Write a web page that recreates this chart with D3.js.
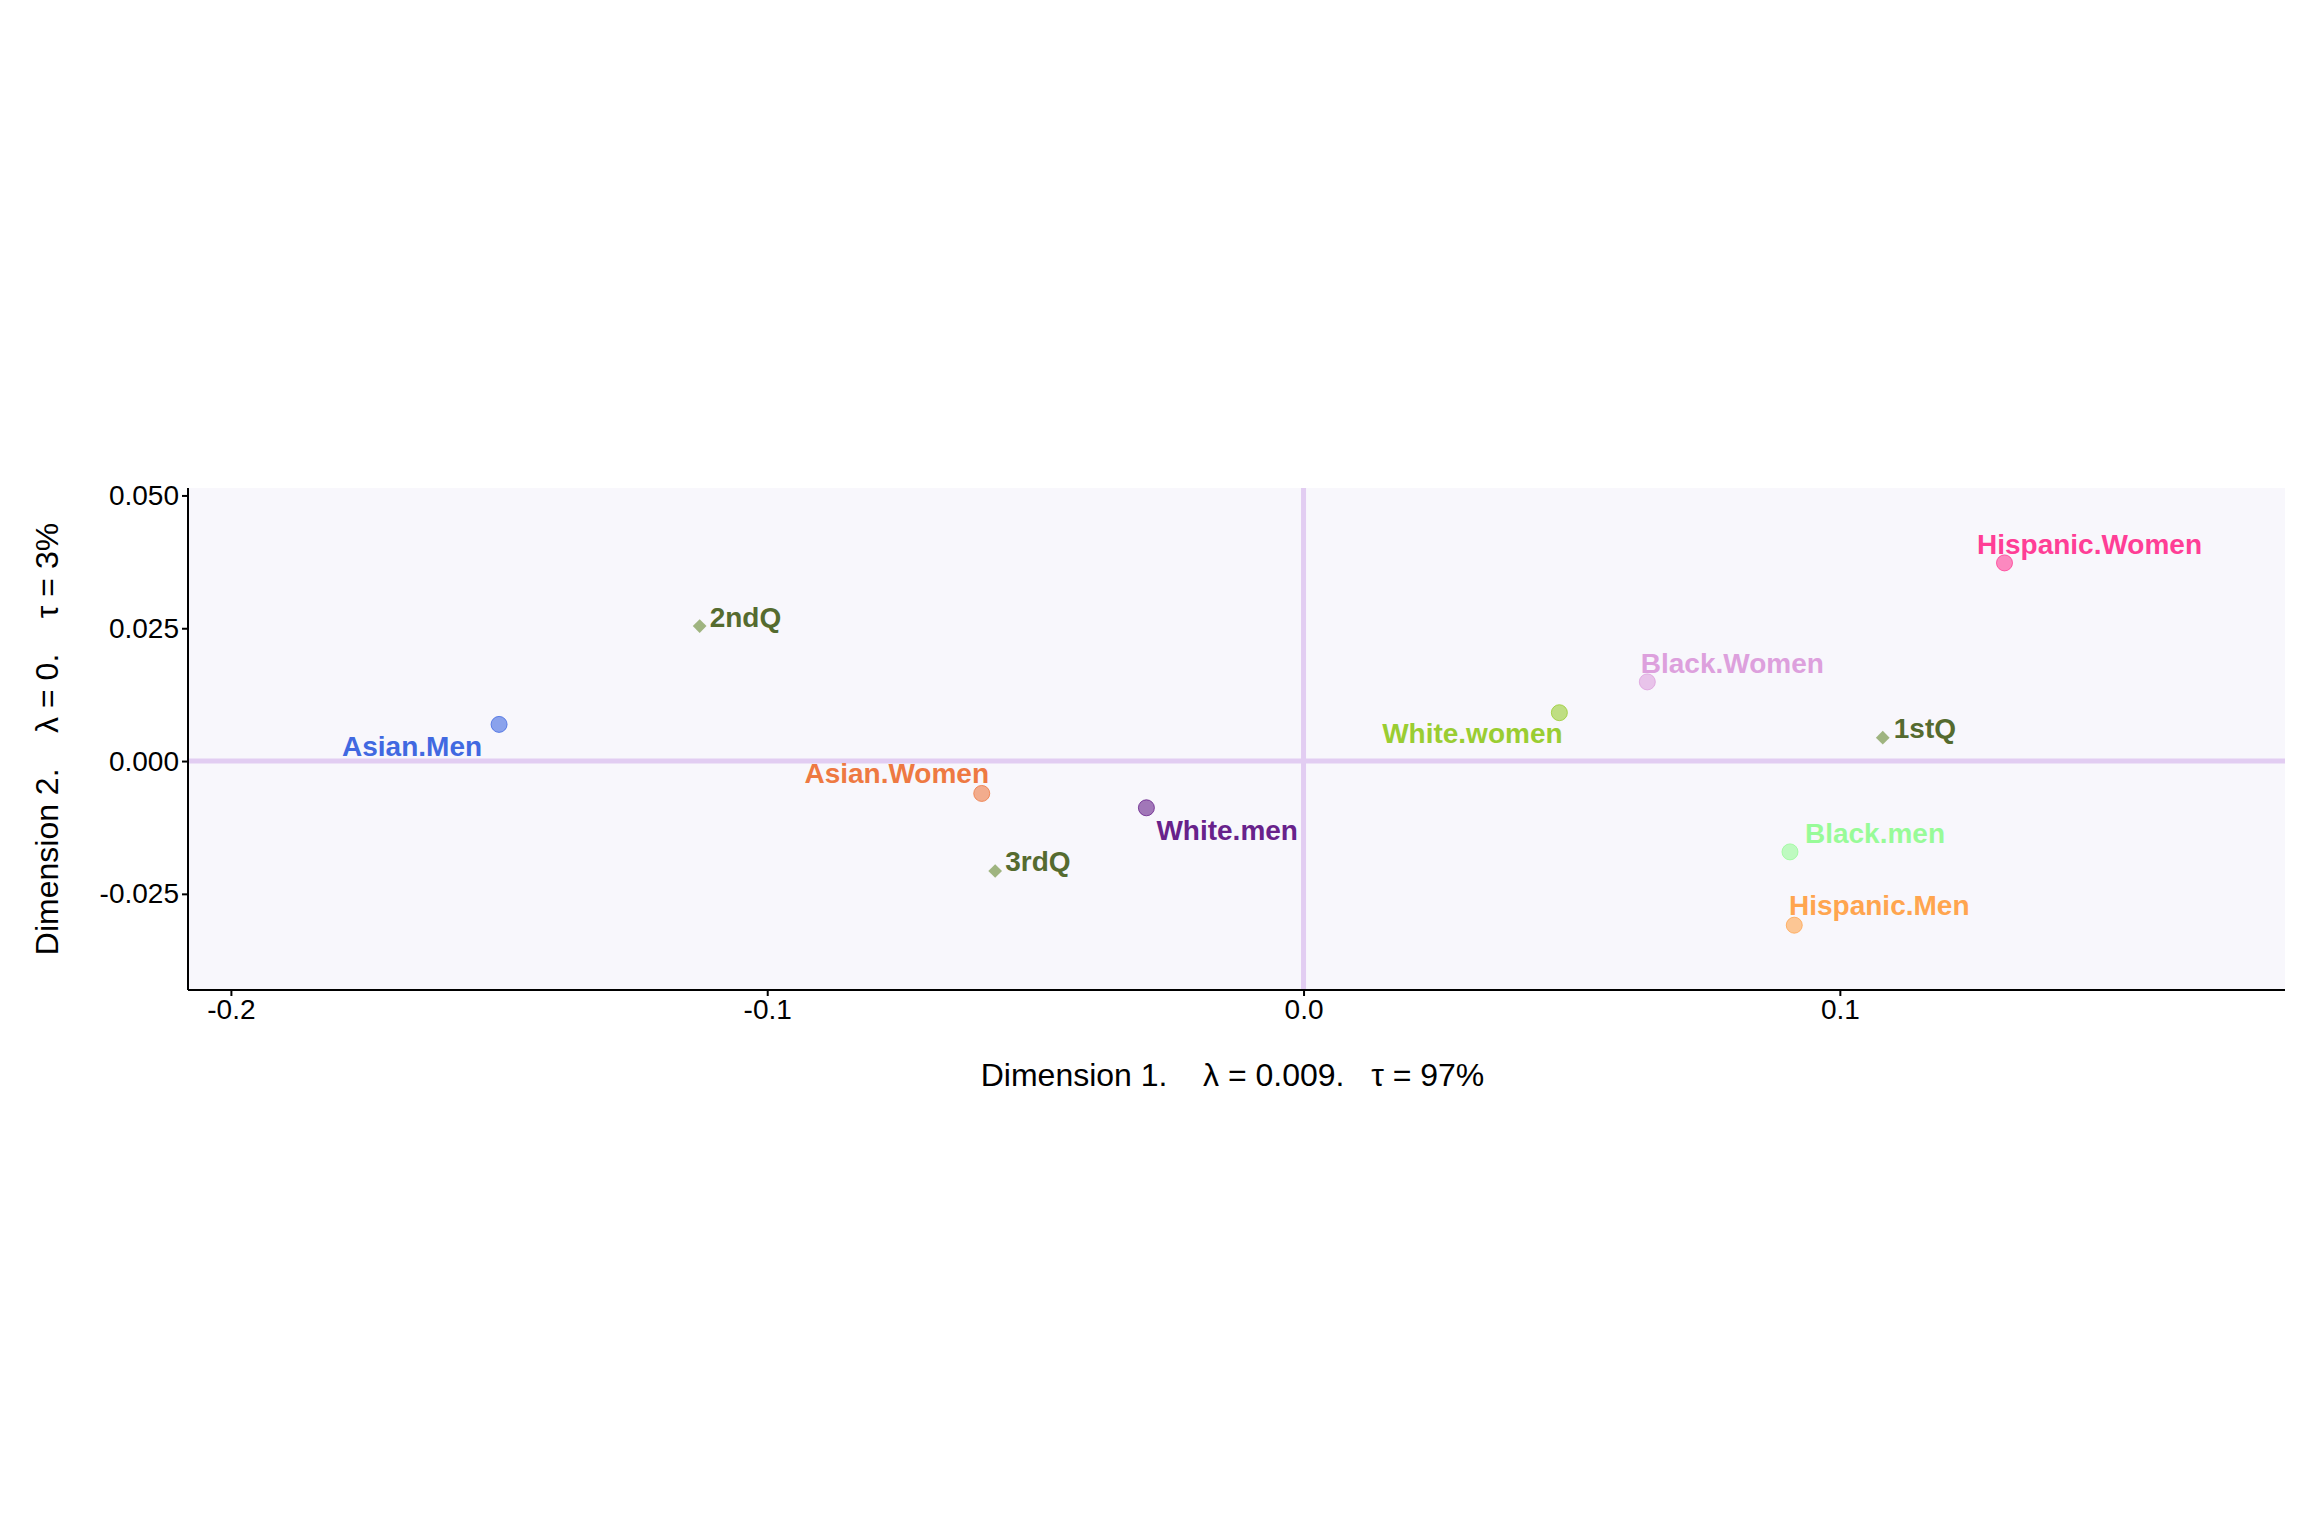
<!DOCTYPE html>
<html lang="en">
<head>
<meta charset="UTF-8">
<title>CA biplot</title>
<style>body{margin:0;background:#fff;} text{font-family:"Liberation Sans",Arial,sans-serif;}</style>
</head>
<body>
<svg width="2304" height="1536"></svg>
<script src="https://d3js.org/d3.v7.min.js"></script>
<script>
const names = ["Asian.Men","2ndQ","Asian.Women","White.men","3rdQ","White.women","Black.Women","1stQ","Black.men","Hispanic.Men","Hispanic.Women"];
const dim1 = [-0.150,-0.1126,-0.060,-0.0293,-0.0575,0.0477,0.0641,0.108,0.0907,0.0915,0.1307];
const dim2 = [0.0069,0.0254,-0.0061,-0.0088,-0.0207,0.0091,0.0149,0.0044,-0.0171,-0.0309,0.0373];
const kind = ["row","col","row","row","col","row","row","col","row","row","row"];
const colours = ["#4169E1","#556B2F","#EE7942","#68228B","#556B2F","#9ACD32","#DDA0DD","#556B2F","#98FB98","#FFA54F","#FF3E96"];
const xTicks = [-0.2,-0.1,0.0,0.1];
const yTicks = [0.050,0.025,0.000,-0.025];

// label placement: [dx, dy, anchor]
const place = {
  "Asian.Men":[-87,22,"middle"], "2ndQ":[10,-9,"start"], "Asian.Women":[-85,-20,"middle"],
  "White.men":[10,22,"start"], "3rdQ":[10,-10,"start"], "White.women":[-87,20,"middle"],
  "Black.Women":[85,-19,"middle"], "1stQ":[11,-9,"start"], "Black.men":[85,-19,"middle"],
  "Hispanic.Men":[85,-20,"middle"], "Hispanic.Women":[85,-19,"middle"]
};

const L = 188, R = 2285, T = 488, B = 990;
const x = d3.scaleLinear().domain([-0.208,0.183]).range([L,R]);
const y = d3.scaleLinear().domain([-0.0431,0.0514]).range([B,T]);
const svg = d3.select("svg");
const fmt = f => d => d3.format(f)(d).replace("−","-");

svg.append("rect").attr("x",L).attr("y",T).attr("width",R-L).attr("height",B-T).attr("fill","#F8F7FC");
svg.append("line").attr("x1",x(0)).attr("x2",x(0)).attr("y1",T).attr("y2",B).attr("stroke","#E2CDF2").attr("stroke-width",5);
svg.append("line").attr("x1",L).attr("x2",R).attr("y1",y(0)).attr("y2",y(0)).attr("stroke","#E2CDF2").attr("stroke-width",5);

const xa = svg.append("g").attr("transform",`translate(0,${B})`)
  .call(d3.axisBottom(x).tickValues(xTicks).tickFormat(fmt(".1f")).tickSize(6).tickSizeOuter(0));
const ya = svg.append("g").attr("transform",`translate(${L},0)`)
  .call(d3.axisLeft(y).tickValues(yTicks).tickFormat(fmt(".3f")).tickSize(6).tickSizeOuter(0));
[xa,ya].forEach(a => {
  a.selectAll("path,line").attr("stroke","#000").attr("stroke-width",2);
  a.selectAll("text").attr("font-size",28).attr("fill","#000").attr("font-family","Liberation Sans,Arial,sans-serif");
});
xa.select(".domain").attr("d",`M${L},0H${R}`);
ya.select(".domain").attr("d",`M0,${T}V${B}`);

svg.append("text").attr("x",(L+R)/2 - 4).attr("y",1086).attr("text-anchor","middle").attr("font-size",32)
  .style("white-space","pre").text("Dimension 1.    λ = 0.009.   τ = 97%");
svg.append("text").attr("transform",`translate(58,${(T+B)/2}) rotate(-90)`).attr("text-anchor","middle").attr("font-size",32)
  .style("white-space","pre").text("Dimension 2.    λ = 0.    τ = 3%");

const data = names.map((n,i) => ({n, a:dim1[i], b:dim2[i], k:kind[i], c:colours[i]}));
const g = svg.append("g");
data.forEach(d => {
  const px = x(d.a), py = y(d.b);
  if (d.k === "row") {
    g.append("circle").attr("cx",px).attr("cy",py).attr("r",8)
      .attr("fill",d.c).attr("fill-opacity",0.6).attr("stroke",d.c).attr("stroke-opacity",0.8);
  } else {
    g.append("path").attr("d",d3.symbol(d3.symbolDiamond2,120)()).attr("transform",`translate(${px},${py})`)
      .attr("fill","#8FA86A").attr("fill-opacity",0.85);
  }
  const p = place[d.n];
  g.append("text").attr("x",px+p[0]).attr("y",py+p[1]).attr("dy","0.35em").attr("text-anchor",p[2])
    .attr("font-size",28).attr("font-weight","bold").attr("fill",d.c).text(d.n);
});
</script>
</body>
</html>
